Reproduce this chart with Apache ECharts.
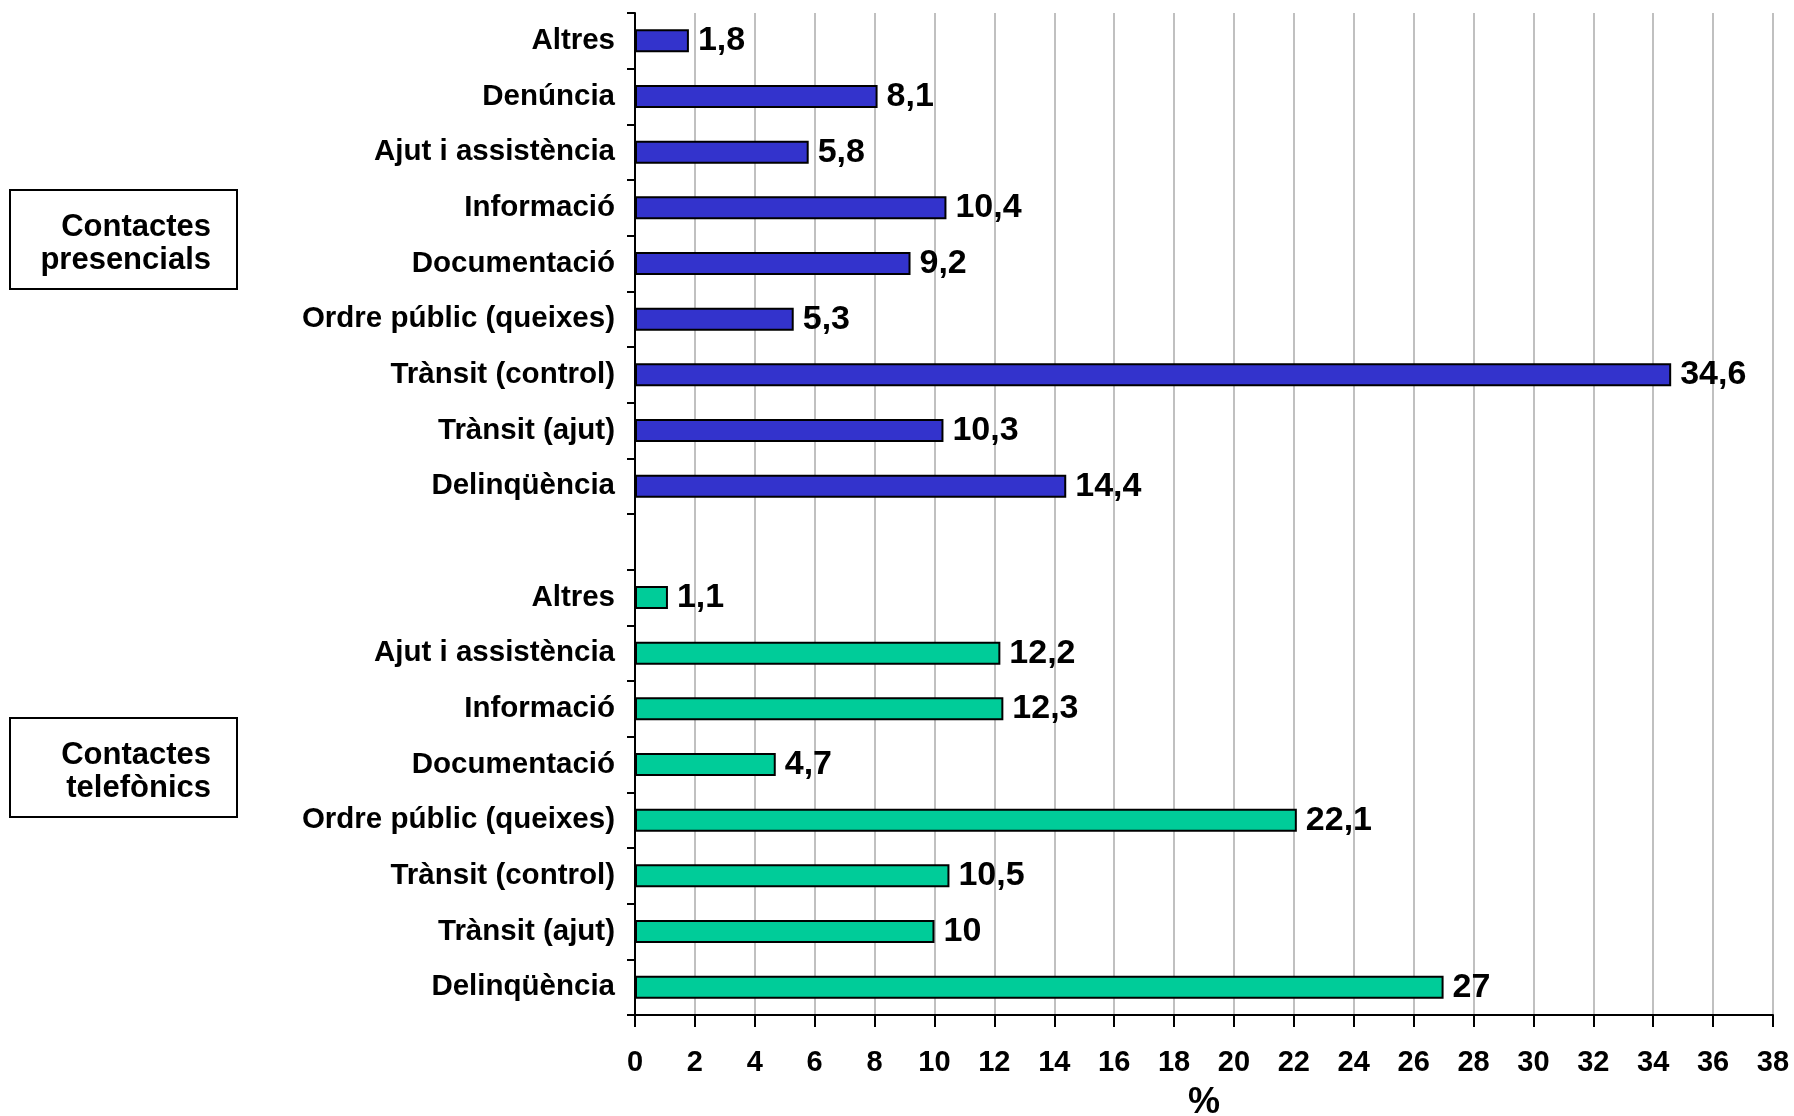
<!DOCTYPE html>
<html>
<head>
<meta charset="utf-8">
<script src="https://cdn.jsdelivr.net/npm/echarts@6/dist/echarts.min.js"></script>
<style>
  html, body { margin: 0; padding: 0; background: #fff; }
  #chart { width: 1794px; height: 1116px; }
</style>
</head>
<body>
<div id="chart"></div>
<script>
// contactes presencials (de dalt a baix)
const presCategories = ['Altres', 'Denúncia', 'Ajut i assistència', 'Informació', 'Documentació',
  'Ordre públic (queixes)', 'Trànsit (control)', 'Trànsit (ajut)', 'Delinqüència']
const presValues = [1.8, 8.1, 5.8, 10.4, 9.2, 5.3, 34.6, 10.3, 14.4]

// contactes telefònics
const telCategories = ['Altres', 'Ajut i assistència', 'Informació', 'Documentació',
  'Ordre públic (queixes)', 'Trànsit (control)', 'Trànsit (ajut)', 'Delinqüència']
const telValues = [1.1, 12.2, 12.3, 4.7, 22.1, 10.5, 10, 27]

const xTicks = [0, 2, 4, 6, 8, 10, 12, 14, 16, 18, 20, 22, 24, 26, 28, 30, 32, 34, 36, 38]

// una fila buida entre els dos grups
const categories = presCategories.concat([''], telCategories)
const blank = n => Array(n).fill('-')
const presSeries = presValues.concat(blank(1 + telValues.length))
const telSeries = blank(presValues.length + 1).concat(telValues)

const font = 'Liberation Sans, Arial, sans-serif'
const fmt = p => String(p.value).replace('.', ',')

// caixa amb el nom del grup, text alineat a la dreta
const groupBox = (top, line1, line2) => [
  { type: 'rect', left: 9, top: top, shape: { width: 227, height: 99 },
    style: { fill: '#fff', stroke: '#000', lineWidth: 2 } },
  { type: 'text', style: { x: 211, y: top + 38, text: line1, align: 'right', verticalAlign: 'middle',
    fill: '#000', font: 'bold 31px ' + font } },
  { type: 'text', style: { x: 211, y: top + 71, text: line2, align: 'right', verticalAlign: 'middle',
    fill: '#000', font: 'bold 31px ' + font } }
]

const chart = echarts.init(document.getElementById('chart'))
chart.setOption({
  animation: false,
  textStyle: { fontFamily: font },
  grid: { left: 635, right: 21, top: 13, bottom: 101, containLabel: false, outerBoundsMode: 'none' },
  xAxis: {
    type: 'value',
    min: xTicks[0],
    max: xTicks[xTicks.length - 1],
    interval: 2,
    name: '%',
    nameLocation: 'middle',
    nameGap: 70,
    nameTextStyle: { fontSize: 36, fontWeight: 'bold', color: '#000', fontFamily: font },
    axisLine: { show: true, lineStyle: { color: '#000', width: 2 } },
    axisTick: { show: true, length: 12, lineStyle: { color: '#000', width: 2 } },
    axisLabel: { margin: 33, fontSize: 29, fontWeight: 'bold', color: '#000', fontFamily: font },
    splitLine: { show: true, lineStyle: { color: '#c0c0c0', width: 2 } }
  },
  yAxis: {
    type: 'category',
    inverse: true,
    data: categories,
    axisLine: { show: true, lineStyle: { color: '#000', width: 2 } },
    axisTick: { show: true, length: 8, lineStyle: { color: '#000', width: 2 } },
    axisLabel: { margin: 20, fontSize: 29.5, fontWeight: 'bold', color: '#000', fontFamily: font },
    splitLine: { show: false }
  },
  series: [
    {
      type: 'bar',
      name: 'Contactes presencials',
      data: presSeries,
      barWidth: 23,
      barGap: '-100%',
      itemStyle: { color: '#3333cc', borderColor: '#000', borderWidth: 2 },
      label: { show: true, position: 'right', distance: 9, formatter: fmt,
        fontSize: 34, fontWeight: 'bold', color: '#000', fontFamily: font }
    },
    {
      type: 'bar',
      name: 'Contactes telefònics',
      data: telSeries,
      barWidth: 23,
      barGap: '-100%',
      itemStyle: { color: '#00cc99', borderColor: '#000', borderWidth: 2 },
      label: { show: true, position: 'right', distance: 9, formatter: fmt,
        fontSize: 34, fontWeight: 'bold', color: '#000', fontFamily: font }
    }
  ],
  graphic: groupBox(189, 'Contactes', 'presencials').concat(groupBox(717, 'Contactes', 'telefònics'))
})
</script>
</body>
</html>
